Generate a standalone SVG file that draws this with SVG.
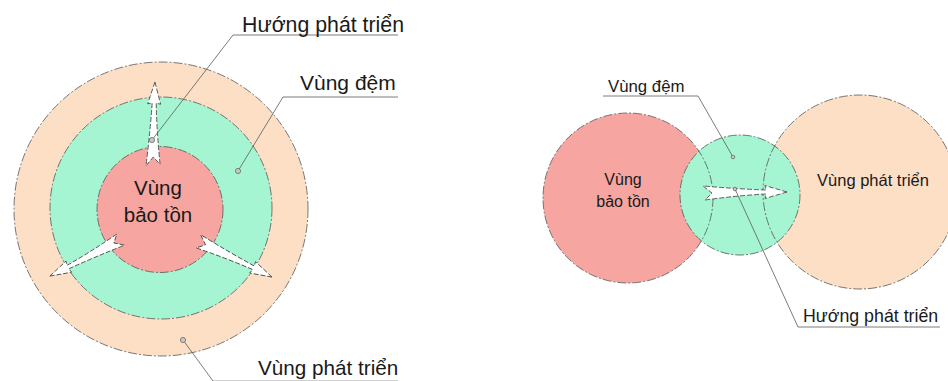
<svg xmlns="http://www.w3.org/2000/svg" width="948" height="381" viewBox="0 0 948 381">
<style>
.t{font-family:"Liberation Sans",Arial,sans-serif;fill:#1a1a1a}
.ol{fill:none;stroke:#555555;stroke-width:0.8;stroke-dasharray:9 2 2 2}
.ld{fill:none;stroke:#5a5a5a;stroke-width:0.8}
.dot{fill:#c8c8c8;stroke:#6a6a6a;stroke-width:0.8}
.arw{fill:#ffffff;stroke:#3a3a3a;stroke-width:0.8;stroke-dasharray:5 2}
</style>
<defs>
<path id="arrow" d="M84,0 L62,-6.5 L63,-2 Q35,-3 0,-6 L9,1 L2,8 Q35,3.5 63,2 L62,6.5 Z"/>
</defs>
<rect width="948" height="381" fill="#ffffff"/>

<g id="left-development-zone">
<circle cx="161" cy="209" r="147" fill="#FDDFC6"/>
<circle cx="161" cy="209" r="147" class="ol"/>
</g>
<g id="left-buffer-zone">
<circle cx="161" cy="208" r="111" fill="#A6F5D2"/>
<circle cx="161" cy="208" r="111" class="ol"/>
</g>
<g id="left-conservation-zone">
<circle cx="160" cy="209.5" r="63" fill="#F7A5A0"/>
<circle cx="160" cy="209.5" r="63" class="ol"/>
<text class="t" x="158" y="195" font-size="20.5" text-anchor="middle">Vùng</text>
<text class="t" x="158" y="222" font-size="20.5" text-anchor="middle">bảo tồn</text>
</g>

<g id="left-arrows">
<use href="#arrow" class="arw" transform="translate(152,166) rotate(-88)"/>
<use href="#arrow" class="arw" transform="translate(122,240) rotate(153.4) scale(0.96)"/>
<use href="#arrow" class="arw" transform="translate(198,240) rotate(26.6) scale(0.985)"/>
</g>

<g id="right-conservation-zone">
<circle cx="628" cy="198" r="85" fill="#F7A5A0"/>
</g>
<g id="right-development-zone">
<circle cx="860" cy="192" r="97" fill="#FDDFC6"/>
</g>
<g id="right-buffer-zone">
<circle cx="740" cy="195" r="60" fill="#A6F5D2"/>
<circle cx="740" cy="195" r="60" class="ol"/>
</g>
<g id="right-outlines">
<circle cx="628" cy="198" r="85" class="ol"/>
<circle cx="860" cy="192" r="97" class="ol"/>
<text class="t" x="623" y="185" font-size="16" text-anchor="middle">Vùng</text>
<text class="t" x="623" y="207" font-size="16" text-anchor="middle">bảo tồn</text>
<text class="t" x="873" y="186" font-size="16.5" text-anchor="middle">Vùng phát triển</text>
</g>
<g id="right-arrow">
<use href="#arrow" class="arw" transform="translate(703,192)"/>
</g>

<g id="connectors">
<polyline class="ld" points="398,35 233,35 152,140"/>
<polyline class="ld" points="398,97 283,97 238,171"/>
<polyline class="ld" points="183,340 213,381"/>
<line class="ld" x1="213" y1="380.6" x2="398" y2="380.6" opacity="0.4"/>
<polyline class="ld" points="603,96 698,96 733,157"/>
<polyline class="ld" points="940,327 798,327 735,189"/>
<circle class="dot" cx="152" cy="140" r="2.6"/>
<circle class="dot" cx="238" cy="171" r="2.6"/>
<circle class="dot" cx="183" cy="340" r="2.6"/>
<circle class="dot" cx="733" cy="157" r="1.8"/>
<circle class="dot" cx="735" cy="189" r="1.8"/>
</g>

<g id="labels">
<text class="t" x="242" y="32" font-size="21.3">Hướng phát triển</text>
<text class="t" x="300" y="90" font-size="21">Vùng đệm</text>
<text class="t" x="258" y="375" font-size="20.7">Vùng phát triển</text>
<text class="t" x="608" y="92" font-size="16.8">Vùng đệm</text>
<text class="t" x="803" y="322" font-size="17.8">Hướng phát triển</text>
</g>
</svg>
